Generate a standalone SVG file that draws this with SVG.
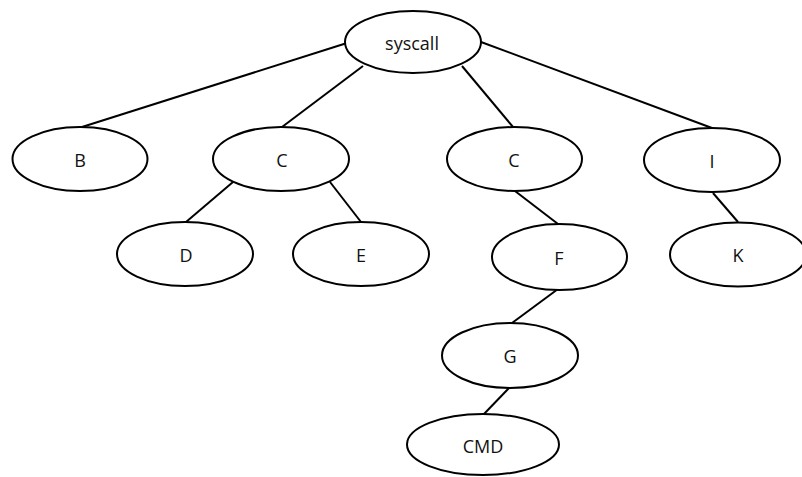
<svg xmlns="http://www.w3.org/2000/svg" width="802" height="477" viewBox="0 0 802 477">
<style>
.n ellipse{fill:#fff;stroke:#000;stroke-width:2}
.n text{font-family:"Open Sans","Noto Sans",sans-serif;font-size:18px;fill:#111;text-anchor:middle}
#edges line{stroke:#000;stroke-width:2}
</style>
<rect width="802" height="477" fill="#fff"/>
<g id="edges">
<line x1="347" y1="43" x2="82" y2="127"/>
<line x1="363" y1="66" x2="282" y2="127"/>
<line x1="462" y1="66" x2="513" y2="127"/>
<line x1="481" y1="42" x2="712" y2="128"/>
<line x1="233" y1="182" x2="186" y2="222"/>
<line x1="330" y1="182" x2="361" y2="222"/>
<line x1="515" y1="191" x2="558" y2="224"/>
<line x1="713" y1="193" x2="738" y2="222"/>
<line x1="558" y1="289" x2="512" y2="323"/>
<line x1="509" y1="388" x2="484" y2="414"/>
</g>
<g id="syscall" class="n"><ellipse cx="413" cy="42" rx="68" ry="31"/><text x="412" y="50">syscall</text></g>
<g id="B" class="n"><ellipse cx="80" cy="159" rx="67.5" ry="32"/><text x="80" y="166.5">B</text></g>
<g id="C1" class="n"><ellipse cx="281" cy="159" rx="68" ry="32"/><text x="282" y="166.5">C</text></g>
<g id="C2" class="n"><ellipse cx="514.5" cy="159" rx="67.5" ry="32"/><text x="514" y="166.5">C</text></g>
<g id="I" class="n"><ellipse cx="712" cy="160" rx="68" ry="32"/><text x="712" y="167.5">I</text></g>
<g id="D" class="n"><ellipse cx="185" cy="254" rx="68" ry="32"/><text x="186" y="261.5">D</text></g>
<g id="E" class="n"><ellipse cx="361" cy="254" rx="68" ry="32"/><text x="361" y="261.5">E</text></g>
<g id="F" class="n"><ellipse cx="559.5" cy="257" rx="67.5" ry="33"/><text x="559" y="264.5">F</text></g>
<g id="K" class="n"><ellipse cx="738" cy="254.5" rx="68" ry="32"/><text x="738" y="261.5">K</text></g>
<g id="G" class="n"><ellipse cx="510" cy="355.5" rx="68" ry="32.5"/><text x="510" y="362.5">G</text></g>
<g id="CMD" class="n"><ellipse cx="483" cy="444.5" rx="76" ry="30.5"/><text x="483" y="452.5">CMD</text></g>
</svg>
